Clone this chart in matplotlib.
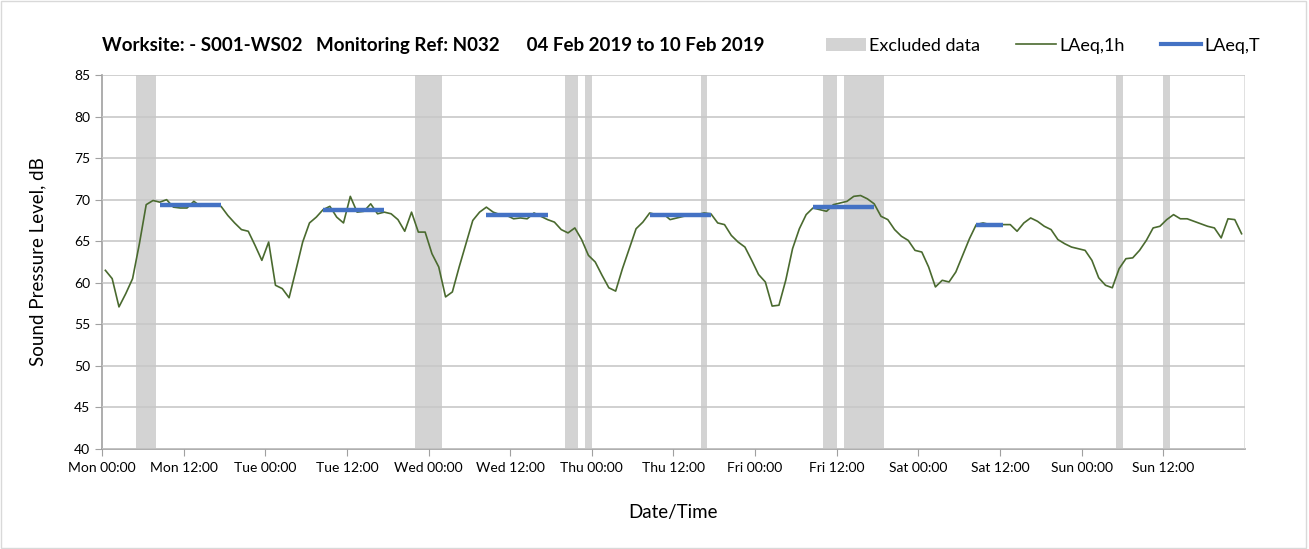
import matplotlib
matplotlib.use('agg')
import matplotlib.pyplot as plt
from matplotlib.patches import Patch
from matplotlib.lines import Line2D
import numpy as np

plt.rcParams['font.family'] = ['Lato', 'DejaVu Sans']

# hourly LAeq,1h values (dB), Mon 00:00 .. Sun 23:00
laeq_1h = [
    61.5, 60.5, 57.1, 58.7, 60.5, 64.7, 69.4, 69.9, 69.7, 70.0, 69.1, 69.0,
    69.0, 69.8, 69.2, 69.5, 69.3, 69.2, 68.1, 67.2, 66.4, 66.2, 64.5, 62.7,
    64.9, 59.7, 59.3, 58.2, 61.5, 64.9, 67.2, 67.9, 68.8, 69.2, 67.9, 67.2,
    70.4, 68.5, 68.6, 69.5, 68.3, 68.5, 68.3, 67.6, 66.2, 68.5, 66.1, 66.1,
    63.5, 61.9, 58.3, 58.9, 61.9, 64.7, 67.5, 68.5, 69.1, 68.5, 68.2, 68.1,
    67.7, 67.8, 67.7, 68.4, 68.0, 67.6, 67.3, 66.4, 66.0, 66.6, 65.2, 63.3,
    62.5, 60.9, 59.4, 59.0, 61.7, 64.1, 66.5, 67.3, 68.4, 68.2, 68.3, 67.6,
    67.8, 68.0, 68.1, 68.2, 68.4, 68.3, 67.2, 67.0, 65.7, 64.9, 64.3, 62.7,
    61.0, 60.1, 57.2, 57.3, 60.3, 64.1, 66.5, 68.2, 69.0, 68.8, 68.6, 69.4,
    69.6, 69.8, 70.4, 70.5, 70.1, 69.5, 68.0, 67.6, 66.4, 65.6, 65.1, 63.9,
    63.7, 61.9, 59.5, 60.3, 60.1, 61.3, 63.3, 65.3, 67.0, 67.2, 67.0, 67.0,
    67.0, 67.0, 66.2, 67.2, 67.8, 67.4, 66.8, 66.4, 65.2, 64.7, 64.3, 64.1,
    63.9, 62.7, 60.6, 59.7, 59.4, 61.7, 62.9, 63.0, 63.9, 65.1, 66.6, 66.8,
    67.6, 68.2, 67.7, 67.7, 67.4, 67.1, 66.8, 66.6, 65.4, 67.7, 67.6, 65.9,
]

# LAeq,T over the working period of each day (start hour, end hour, dB)
laeq_t_start = [8, 32, 56, 80, 104, 128]
laeq_t_end = [17, 41, 65, 89, 113, 132]
laeq_t_value = [69.3, 68.7, 68.1, 68.1, 69.1, 66.9]

# excluded data periods (hours from Mon 00:00)
excl_start = [5, 46, 68, 71, 88, 106, 109, 149, 156]
excl_end = [8, 50, 70, 72, 89, 108, 115, 150, 157]

days = ['Mon', 'Tue', 'Wed', 'Thu', 'Fri', 'Sat', 'Sun']
tick_labels = [f'{d} {t}' for d in days for t in ('00:00', '12:00')]

fig = plt.figure(figsize=(13.09, 5.49), dpi=100)
ax = fig.add_axes([0.0779, 0.1821, 0.8732, 0.6813])

hours = np.arange(len(laeq_1h)) + 0.5

for s, e in zip(excl_start, excl_end):
    ax.axvspan(s, e, color='#d3d3d3', lw=0, zorder=0)

ax.plot(hours, laeq_1h, color='#4a6a2f', lw=1.2, zorder=3)
for s, e, v in zip(laeq_t_start, laeq_t_end, laeq_t_value):
    ax.plot([s + 0.5, e + 0.5], [v, v], color='#4472c4', lw=3.2, zorder=4,
            solid_capstyle='butt')

ax.set_xlim(0, 168)
ax.set_ylim(40, 85)
ax.set_yticks(np.arange(40, 86, 5))
ax.set_xticks(np.arange(0, 168, 12))
ax.set_xticklabels(tick_labels, fontsize=10)
ax.set_xticks(np.arange(0, 169, 24), minor=True)
ax.tick_params(axis='both', direction='out', color='#a0a0a0', length=5,
               labelsize=10, labelcolor='black')
ax.tick_params(axis='x', which='minor', length=0)
ax.tick_params(axis='x', which='major', pad=4)

ax.grid(False)
ax.yaxis.grid(True, color='#c8c8c8', lw=1.2, zorder=1)
ax.xaxis.grid(True, which='minor', color='#dcdcdc', lw=1.2, zorder=1)
ax.set_axisbelow(False)
for sp in ['top', 'right']:
    ax.spines[sp].set_visible(False)
for sp in ['left', 'bottom']:
    ax.spines[sp].set_color('#a0a0a0')
    ax.spines[sp].set_linewidth(1.2)

ax.set_ylabel('Sound Pressure Level, dB', fontsize=13.5, labelpad=20)
ax.set_xlabel('Date/Time', fontsize=13.5, labelpad=22)

fig.text(0.078, 0.917, 'Worksite: - S001-WS02   Monitoring Ref: N032      04 Feb 2019 to 10 Feb 2019',
         fontsize=13.5, fontweight='bold', va='center', ha='left')

handles = [Patch(color='#d3d3d3', lw=0),
           Line2D([], [], color='#4a6a2f', lw=1.2),
           Line2D([], [], color='#4472c4', lw=3.0)]
fig.legend(handles, ['Excluded data', 'LAeq,1h', 'LAeq,T'], loc='center right',
           bbox_to_anchor=(0.975, 0.917), ncol=3, frameon=False, fontsize=13,
           handlelength=2.2, handletextpad=0.2, columnspacing=2.0)

fig.patches.append(plt.Rectangle((0.001, 0.002), 0.997, 0.996, transform=fig.transFigure,
                                 fill=False, edgecolor='#d9d9d9', lw=1))

fig.savefig('out.png', dpi=100)
